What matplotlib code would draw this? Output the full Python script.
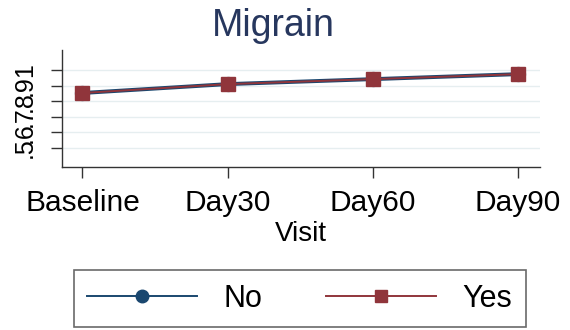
import matplotlib
matplotlib.use("Agg")
import matplotlib.pyplot as plt

# data
visits = ['Baseline', 'Day30', 'Day60', 'Day90']
no_vals = [0.853, 0.91, 0.942, 0.974]
yes_vals = [0.853, 0.91, 0.942, 0.974]
y_ticks = [0.5, 0.6, 0.7, 0.8, 0.9, 1.0]
y_tick_labels = ['.5', '.6', '.7', '.8', '.9', '1']

plt.rcParams['font.family'] = ['Liberation Sans', 'DejaVu Sans']

fig = plt.figure(figsize=(5.7, 3.3), dpi=100)
ax = fig.add_axes([0.109, 0.494, 0.838, 0.354])

x = list(range(len(visits)))
# No sits right under Yes in the reference
ax.plot(x, no_vals, color='#1a476f', marker='o', markersize=10, linewidth=2.8, label='No')
ax.plot(x, yes_vals, color='#90353b', marker='s', markersize=10, linewidth=1.4, label='Yes')

ax.set_xlim(-0.14, 3.15)
ax.set_ylim(0.378, 1.128)
ax.set_xticks(x)
ax.set_xticklabels(visits, fontsize=21.5)
ax.set_yticks(y_ticks)
ax.set_yticklabels(y_tick_labels, fontsize=18, rotation=90, va='center')

for yt in y_ticks:
    ax.axhline(yt, color='#e6eef0', linewidth=1.0, zorder=0)

for s in ['top', 'right']:
    ax.spines[s].set_visible(False)
for s in ['left', 'bottom']:
    ax.spines[s].set_color('#333333')
    ax.spines[s].set_linewidth(1.0)

ax.tick_params(axis='x', length=8, width=1, color='#333333', pad=8)
ax.tick_params(axis='y', length=8, width=1, color='#333333', pad=10)

ax.set_xlabel('Visit', fontsize=20, labelpad=3)
fig.text(0.479, 0.92, 'Migrain', ha='center', va='center', fontsize=27, color='#27375e')

leg = fig.legend(loc='center', bbox_to_anchor=(0.526, 0.095), ncol=2, fontsize=22,
                 frameon=True, fancybox=False, edgecolor='#444444', handlelength=3.6,
                 columnspacing=2.1, handletextpad=0.85, markerscale=0.9, borderpad=0.45,
                 borderaxespad=0)
leg.get_frame().set_linewidth(1.2)
for h in leg.legend_handles:
    h.set_linewidth(1.4)

fig.savefig('out.png', dpi=100)
